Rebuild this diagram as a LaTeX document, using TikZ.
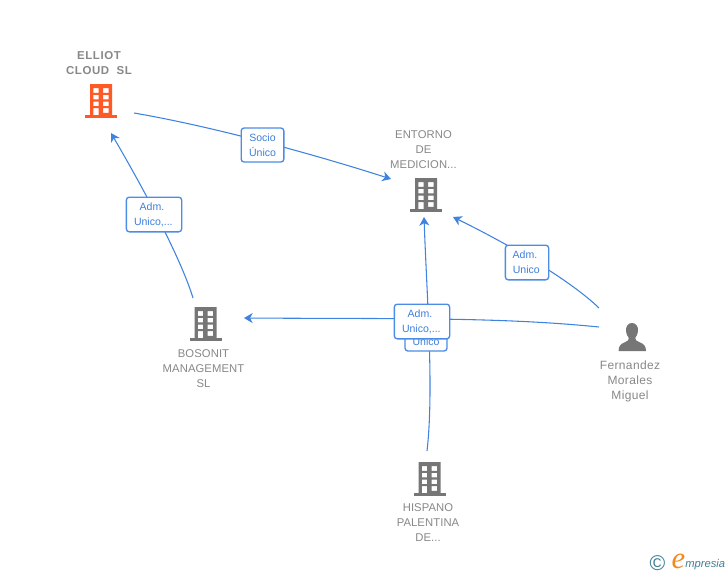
\documentclass[tikz,border=0pt]{standalone}
\usepackage{fontspec}
\setmainfont{Liberation Sans}
\newfontfamily\logofont{Liberation Serif}
\usetikzlibrary{arrows.meta}
\definecolor{linkblue}{HTML}{3F83E0}
\definecolor{boxblue}{HTML}{4C8CE4}
\definecolor{textblue}{HTML}{3D7FDC}
\definecolor{icongray}{HTML}{767676}
\definecolor{iconorange}{HTML}{FF5A26}
\definecolor{namegray}{HTML}{888888}
\definecolor{logoteal}{HTML}{3F7F96}
\definecolor{logoorange}{HTML}{F28A1E}
\tikzset{
  x=0.75pt,y=-0.75pt,
  link/.style={draw=linkblue,line width=0.8pt,-{Stealth[length=6.5pt,width=7.5pt,inset=2pt]}},
  tagbox/.style={draw=boxblue,line width=1pt,rounded corners=2.2pt,fill=white,inner sep=0pt,
    text=textblue,align=center,font=\fontsize{7.9}{11.25}\selectfont},
  nametext/.style={text=namegray,align=center,inner sep=0pt,font=\fontsize{8.45}{11.25}\selectfont\addfontfeature{LetterSpace=0.8}},
  persontext/.style={text=namegray,align=center,inner sep=0pt,font=\fontsize{9}{11.25}\selectfont\addfontfeature{LetterSpace=3}},
  iconspot/.style={inner sep=0pt,minimum width=32pt,minimum height=30pt},
  pics/bldg/.style={code={
    \fill[#1,even odd rule]
      (-11,-17) rectangle (11,14)
      (-7.6,-13) rectangle (-2.4,-8.2)
      (2.0,-13) rectangle (7.5,-8.2)
      (-7.6,-6.2) rectangle (-2.4,-1.6)
      (2.0,-6.2) rectangle (7.5,-1.6)
      (-7.6,0.5) rectangle (-2.4,5.2)
      (2.0,0.5) rectangle (7.5,5.2)
      (-7.6,7) rectangle (-2.4,14)
      (2.0,7) rectangle (7.5,11.8);
    \fill[#1] (-16,14) rectangle (16,17);
  }}
}
\begin{document}
\begin{tikzpicture}
\useasboundingbox (0,0) rectangle (728,575);
\fill[white] (0,0) rectangle (728,575);

% entities (icon spots)
\node[iconspot] (elliot) at (101,101) {};
\node[iconspot] (entorno) at (426,195) {};
\node[iconspot] (bosonit) at (205.5,324) {};
\node[iconspot] (hispano) at (429.5,479) {};
\node[iconspot] (fernandez) at (632,340) {};

\pic at (elliot.center) {bldg=iconorange};
\pic at (entorno.center) {bldg=icongray};
\pic at (bosonit.center) {bldg=icongray};
\pic at (hispano.center) {bldg=icongray};
\fill[icongray] (632,323)
   .. controls (628,323) and (625.8,326.5) .. (626,330.5)
   .. controls (626.2,334) and (627.6,336.5) .. (628.8,338)
   .. controls (629,340) and (628,341) .. (625,342.2)
   .. controls (620.5,344) and (618.6,346) .. (618.6,351)
   -- (646,351)
   .. controls (646,346) and (644,344) .. (639.5,342.2)
   .. controls (636.5,341) and (635,340) .. (635.2,338)
   .. controls (636.4,336.5) and (637.8,334) .. (638,330.5)
   .. controls (638.2,326.5) and (636,323) .. (632,323) -- cycle;

% entity names
\node[nametext,font=\fontsize{8.6}{11.25}\selectfont\bfseries\addfontfeature{LetterSpace=5}] (elliotname) at (99,63) {ELLIOT\\CLOUD\ \ SL};
\node[nametext] (entornoname) at (423.5,150) {ENTORNO\\DE\\MEDICION...};
\node[nametext] (bosonitname) at (203.5,369) {BOSONIT\\MANAGEMENT\\SL};
\node[nametext] (hispanoname) at (428,523) {HISPANO\\PALENTINA\\DE...};
\node[persontext] (fernandezname) at (630,381) {Fernandez\\Morales\\Miguel};

% connectors
\draw[link] ([shift={(33,12)}]elliot.center) .. controls (210,126) and (310,153) .. ([shift={(-35,-16)}]entorno.center);
\draw[link] ([shift={(-12.5,-26)}]bosonit.center) .. controls (182,262) and (150,200) .. ([shift={(10,32)}]elliot.center);
\draw[link] ([shift={(-33,-32)}]fernandez.center) .. controls (570,280) and (510,245) .. ([shift={(27,22)}]entorno.center);
\draw[link] ([shift={(-33,-13)}]fernandez.center) .. controls (500,317) and (400,319) .. ([shift={(38.5,-6)}]bosonit.center);
\draw[link] ([shift={(-2.5,-28)}]hispano.center) .. controls (434,390) and (427,300) .. ([shift={(-2,22)}]entorno.center);

% connector labels
\node[tagbox,minimum width=32pt,minimum height=25.5pt] (socio) at (262.5,145) {Socio\\Único};
\node[tagbox,minimum width=41.5pt,minimum height=26pt] (admelliot) at (154,214.5) {Adm.\hspace*{3pt}\\Unico,...\hspace*{1pt}};
\node[tagbox,minimum width=32.5pt,minimum height=26pt] (admentorno) at (527,262.5) {Adm.\hspace*{3pt}\\Unico\hspace*{1pt}};
\node[tagbox,minimum width=31.5pt,minimum height=25.5pt] (unico) at (426,334) {\phantom{A}\\Unico};
\node[tagbox,minimum width=41.5pt,minimum height=26pt] (admcentre) at (422,321.5) {Adm.\hspace*{3pt}\\Unico,...\hspace*{1pt}};

% logo
\node[text=logoteal,inner sep=0pt,font=\fontsize{16}{16}\selectfont] (copyr) at (657.5,563.5) {©};
\node[text=logoorange,inner sep=0pt,font=\logofont\itshape\fontsize{23}{23}\selectfont] (logoe) at (678.5,561) {e};
\node[text=logoteal,inner sep=0pt,anchor=west,font=\itshape\fontsize{8.4}{10}\selectfont] (logotext) at (685,564.5) {mpresia};
\end{tikzpicture}
\end{document}
